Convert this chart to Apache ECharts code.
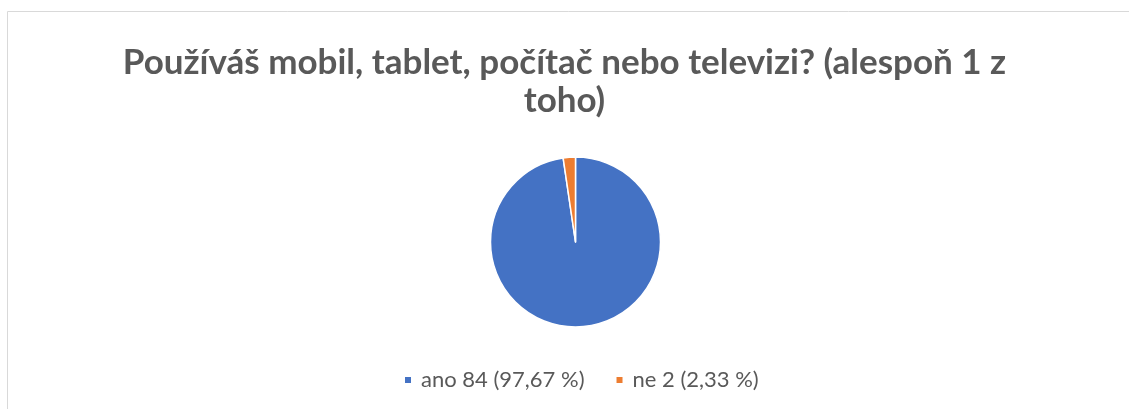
<!DOCTYPE html>
<html>
<head>
<meta charset="utf-8">
<script src="https://cdn.jsdelivr.net/npm/echarts@6/dist/echarts.min.js"></script>
<style>
	html, body { margin: 0; padding: 0; background: #ffffff; }
	#main { width: 1129px; height: 409px; }
</style>
</head>
<body>
	<div id="main"></div>
	<script type="text/javascript">
		// data
		var titleText = 'Používáš mobil, tablet, počítač nebo televizi? (alespoň 1 z\ntoho)';
		var categories = ['ano', 'ne'];
		var counts = [84, 2];
		var colors = ['#4472C4', '#ED7D31'];

		var total = counts.reduce(function(a, b) { return a + b; }, 0);
		var pieData = categories.map(function(c, i) {
			return { name: c, value: counts[i], itemStyle: { color: colors[i] } };
		});

		var chart = echarts.init(document.getElementById('main'));
		var option = {
			animation: false,
			title: {
				text: titleText,
				left: 'center',
				top: 44,
				padding: 0,
				textStyle: {
					fontFamily: 'Lato',
					fontWeight: 'bold',
					fontSize: 35,
					lineHeight: 38,
					color: '#595959'
				}
			},
			legend: {
				data: categories,
				left: 403,
				top: 369,
				padding: 0,
				itemWidth: 8,
				itemHeight: 8,
				itemGap: 30,
				icon: 'rect',
				textStyle: {
					fontFamily: 'Lato',
					fontSize: 22,
					color: '#595959',
					padding: [0, 0, 0, 4]
				},
				formatter: function(name) {
					var i = categories.indexOf(name);
					var pct = (counts[i] / total * 100).toFixed(2).replace('.', ',');
					return name + ' ' + counts[i] + ' (' + pct + ' %)';
				}
			},
			series: [{
				type: 'pie',
				center: [575.5, 242],
				radius: 85,
				startAngle: 90,
				clockwise: true,
				label: { show: false },
				labelLine: { show: false },
				itemStyle: { borderColor: '#ffffff', borderWidth: 1.5 },
				data: pieData
			}],
			graphic: [{
				type: 'polyline',
				shape: { points: [[7.5, 409], [7.5, 11.5], [1129, 11.5]] },
				style: { stroke: '#d9d9d9', lineWidth: 1, fill: null }
			}]
		};
		chart.setOption(option);
	</script>
</body>
</html>
